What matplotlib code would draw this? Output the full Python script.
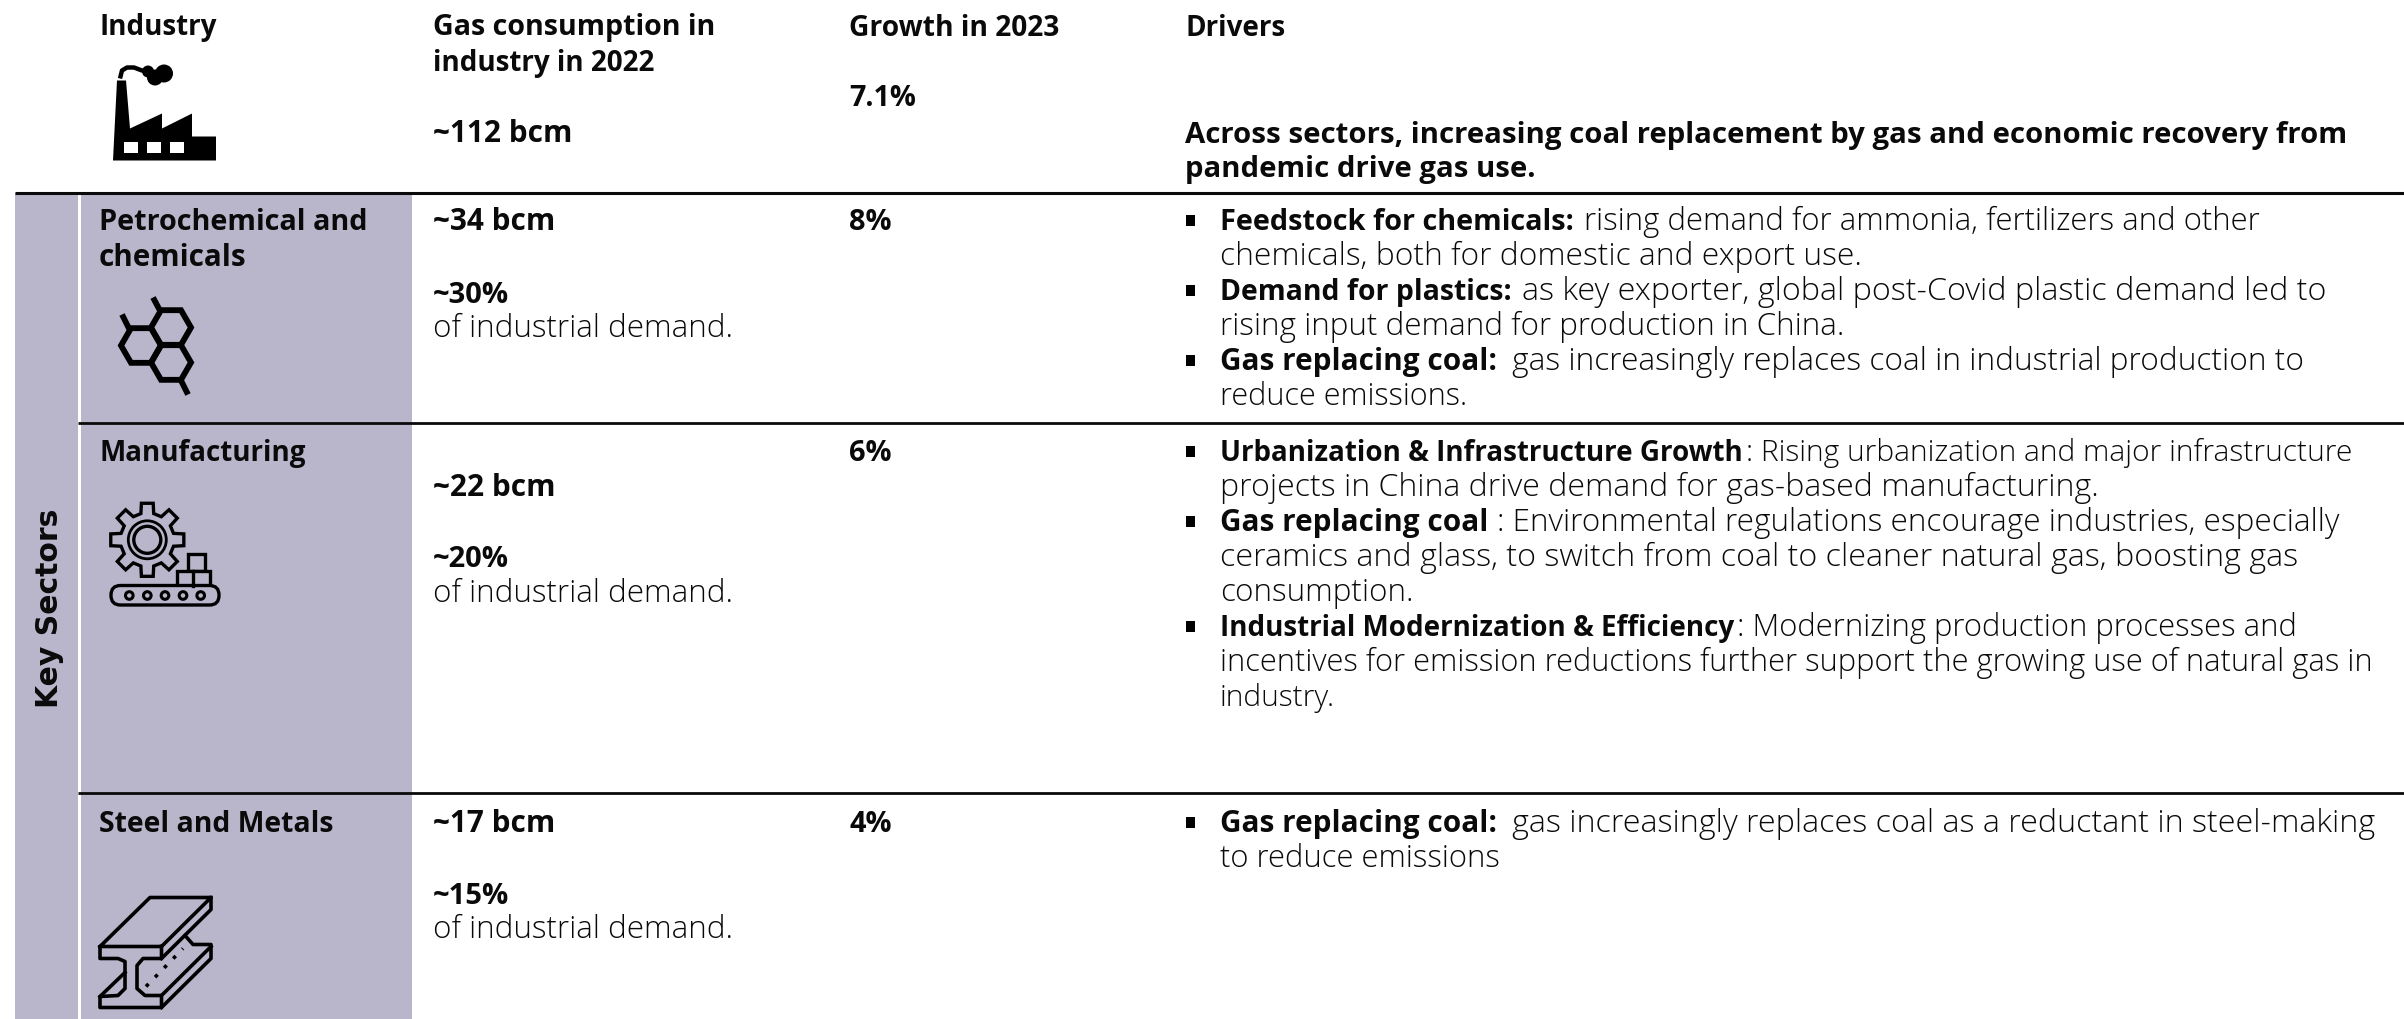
import numpy as np
import matplotlib
matplotlib.use("Agg")
import matplotlib.pyplot as plt
from matplotlib.patches import Rectangle, Polygon, Circle, FancyBboxPatch

W, H = 2404, 1020
BAND = "#b9b6cb"
INK = "#0a0a0a"
FONT = "Open Sans"
SIZE_BOLD = 20.8
SIZE_REG = 22.3

# header and sector table text
headers = ["Industry", "Growth in 2023", "Drivers"]
header_gas = ["Gas consumption in", "industry in 2022"]
total_gas = "~112 bcm"
total_growth = "7.1%"
summary = ["Across sectors, increasing coal replacement by gas and economic recovery from",
           "pandemic drive gas use."]
sector_names = [["Petrochemical and", "chemicals"], ["Manufacturing"], ["Steel and Metals"]]
sector_bcm = ["~34 bcm", "~22 bcm", "~17 bcm"]
sector_share = ["~30%", "~20%", "~15%"]
share_note = "of industrial demand."
sector_growth = ["8%", "6%", "4%"]
side_label = "Key Sectors"

# (bold part, regular part, starts a bullet)
drivers = [
    [("Feedstock for chemicals:", " rising demand for ammonia, fertilizers and other", True),
     ("", "chemicals, both for domestic and export use.", False),
     ("Demand for plastics:", " as key exporter, global post-Covid plastic demand led to", True),
     ("", "rising input demand for production in China.", False),
     ("Gas replacing coal:", " gas increasingly replaces coal in industrial production to", True),
     ("", "reduce emissions.", False)],
    [("Urbanization & Infrastructure Growth", ": Rising urbanization and major infrastructure", True),
     ("", "projects in China drive demand for gas-based manufacturing.", False),
     ("Gas replacing coal", ": Environmental regulations encourage industries, especially", True),
     ("", "ceramics and glass, to switch from coal to cleaner natural gas, boosting gas", False),
     ("", "consumption.", False),
     ("Industrial Modernization & Efficiency", ": Modernizing production processes and", True),
     ("", "incentives for emission reductions further support the growing use of natural gas in", False),
     ("", "industry.", False)],
    [("Gas replacing coal:", " gas increasingly replaces coal as a reductant in steel-making", True),
     ("", "to reduce emissions", False)],
]

# where each run ends in the reference, in pixels (layout only)
bold_ends = [[1574, None, 1510, None, 1502, None],
             [1728, None, 1494, None, None, 1728, None, None],
             [1502, None]]
line_ends = [[2260, 1862, 2328, 1846, 2306, 1468],
             [2354, 2102, 2340, 2300, 1414, 2298, 2376, 1336],
             [2378, 1500]]

fig = plt.figure(figsize=(W / 100, H / 100), dpi=100, facecolor="white")
ax = fig.add_axes([0, 0, 1, 1])
ax.set_xlim(0, W)
ax.set_ylim(H - 1.5, -1.5)
ax.axis("off")
rend = fig.canvas.get_renderer()


def put(x, y, s, bold=True, right=None):
    t = ax.text(x, y, s, family=FONT, color=INK, va="baseline", ha="left",
                fontweight="bold" if bold else "light",
                fontsize=SIZE_BOLD if bold else SIZE_REG)
    if right is not None:
        # the original face has other widths, so lean the size towards the measured end
        box = t.get_window_extent(rend)
        ratio = (right - x) / box.width
        if bold:
            ratio = min(max(ratio, 0.96), 1.03)
        else:
            ratio = min(max(ratio, 0.94), 1.07)
        t.set_fontsize(t.get_fontsize() * ratio)
    return t


def put_line(x, y, bold_part, regular_part, bold_end, line_end):
    start = x
    if bold_part:
        t = put(x, y, bold_part, right=bold_end)
        start = max(bold_end, t.get_window_extent(rend).x1)
        if regular_part.startswith(" "):
            start += 10
        else:
            start += 3
    put(start, y, regular_part.strip(), bold=False, right=line_end)


def draw_factory():
    ax.add_patch(Polygon([(113, 160), (117, 80), (126, 80), (130, 128), (162, 113), (162, 128),
                          (192, 113), (192, 136), (216, 136), (216, 160)], fc="black", ec="none"))
    for wx in (123.5, 146.5, 170):
        ax.add_patch(Rectangle((wx, 141), 14, 11, fc="white", ec="none"))
    ax.plot([120, 122, 127, 134, 142, 150], [78, 70, 67, 67, 70, 70], color="black", lw=3.2, solid_capstyle="butt")
    for cx, cy, r in ((164, 73, 9), (155, 77, 8), (148, 71, 6)):
        ax.add_patch(Circle((cx, cy), r, fc="black", ec="none"))


def draw_hexagons():
    ang = np.radians(np.arange(0, 360, 60))
    for cx, cy in ((171, 327), (141, 345), (171, 362)):
        ax.add_patch(Polygon(np.c_[cx + 20 * np.cos(ang), cy + 20 * np.sin(ang)], closed=True,
                             fc="none", ec="black", lw=4.2))
    for x0, y0, x1, y1 in ((153, 297, 161, 312), (122, 314, 130, 330), (180, 378, 188, 394)):
        ax.plot([x0, x1], [y0, y1], color="black", lw=4.2, solid_capstyle="butt")


def draw_gear():
    cx, cy = 147.3, 539.3
    pts = []
    teeth = 8
    for i in range(teeth):
        a = 2 * np.pi * i / teeth - np.pi / 2
        for da, r in ((-0.24, 27), (-0.16, 37), (0.16, 37), (0.24, 27)):
            pts.append((cx + r * np.cos(a + da), cy + r * np.sin(a + da)))
    ax.add_patch(Polygon(pts, closed=True, fc="none", ec="black", lw=2.4))
    ax.add_patch(Circle((cx, cy), 19, fc="none", ec="black", lw=2.0))
    ax.add_patch(Circle((cx, cy), 13.5, fc="none", ec="black", lw=2.4))
    ax.add_patch(Rectangle((188, 553), 17, 17, fc=BAND, ec="black", lw=2.4))
    ax.add_patch(Rectangle((177, 570), 33, 15, fc=BAND, ec="black", lw=2.4))
    ax.plot([193, 193], [570, 585], color="black", lw=2.4)
    ax.add_patch(FancyBboxPatch((111, 585), 108, 19.5, boxstyle="round,pad=0,rounding_size=9.5",
                                fc=BAND, ec="black", lw=2.4))
    for bx in (129.3, 147.3, 165, 183, 200.7):
        ax.add_patch(Circle((bx, 595), 3.8, fc="none", ec="black", lw=2.2))


def draw_beam():
    lines = [
        [(100, 946), (150, 897), (211, 897), (161.5, 946), (100, 946), (100, 958), (118, 958), (125, 961),
         (125, 988), (118, 995), (100, 996), (100, 1007), (161.5, 1007), (161.5, 995), (145, 995), (137, 988),
         (137, 965), (143, 958), (161.5, 958), (161.5, 946)],
        [(161.5, 958), (211, 909), (211, 897)],
        [(161.5, 1007), (211, 958), (211, 944), (193, 944), (185, 935)],
        [(161.5, 995), (211, 946)],
        [(100, 996), (125, 972)],
    ]
    for seg in lines:
        seg = np.array(seg)
        ax.plot(seg[:, 0], seg[:, 1], color="black", lw=2.6, solid_joinstyle="round")
    ax.plot([146, 183], [986, 948], color="black", lw=2.6, ls=(0, (1.0, 2.6)))


# bands and rules
ax.add_patch(Rectangle((15, 192), 63, H - 190, fc=BAND, ec="none"))
ax.add_patch(Rectangle((81, 192), 331, H - 190, fc=BAND, ec="none"))
ax.plot([15, W], [192, 192], color=INK, lw=2.2, solid_capstyle="butt")
ax.plot([78, W], [422, 422], color=INK, lw=2.0, solid_capstyle="butt")
ax.plot([78, W], [792, 792], color=INK, lw=2.0, solid_capstyle="butt")

# header row
put(99, 34, headers[0], right=209)
put(433, 34, header_gas[0], right=715)
put(433, 69, header_gas[1], right=649)
put(433, 141, total_gas, right=572)
put(849, 34, headers[1], right=1058)
put(849, 105, total_growth)
put(1185, 34, headers[2], right=1278)
put(1185, 141, summary[0], right=2344)
put(1185, 175, summary[1], right=1534)

# sector rows
name_y = [229, 460, 831]
bcm_y = [229, 495, 831]
share_y = [302, 566, 903]
note_y = [336, 601, 937]
name_ends = [[368, 246], [305], [333]]
for i in range(3):
    for j, nm in enumerate(sector_names[i]):
        put(99, name_y[i] + 36 * j, nm, right=name_ends[i][j])
    put(433, bcm_y[i], sector_bcm[i], right=556)
    put(433, share_y[i], sector_share[i], right=509)
    put(433, note_y[i], share_note, bold=False, right=733)
    put(849, name_y[i], sector_growth[i])
    for j, (b, r, is_bullet) in enumerate(drivers[i]):
        y = name_y[i] + 35 * j
        if is_bullet:
            ax.add_patch(Rectangle((1186, y - 15), 9, 11, fc="black", ec="none"))
        put_line(1220, y, b, r, bold_ends[i][j], line_ends[i][j])

ax.text(50, 607, side_label, rotation=90, ha="center", va="center", family="DejaVu Sans",
        fontweight="bold", fontsize=21.5, color=INK)

draw_factory()
draw_hexagons()
draw_gear()
draw_beam()

fig.savefig("out.png", dpi=100, facecolor="white")
